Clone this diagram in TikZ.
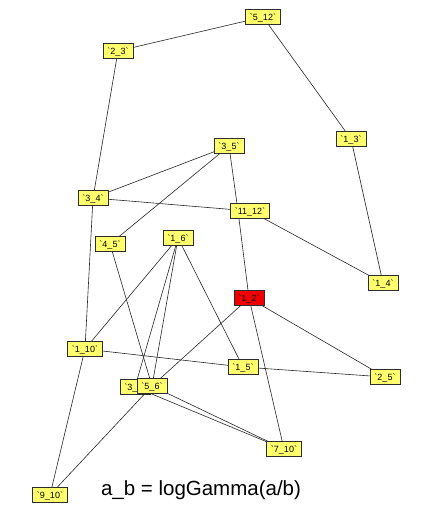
\documentclass[tikz,border=0pt]{standalone}
\usepackage{fontspec}
\setmainfont{Liberation Sans}
\usepackage{tikz}
\usetikzlibrary{backgrounds}
\definecolor{nodeyellow}{RGB}{255,255,110}
\definecolor{nodered}{RGB}{240,0,0}
\definecolor{nodeedge}{RGB}{45,45,45}
\tikzset{
  gnode/.style={draw=nodeedge, line width=0.9pt, fill=nodeyellow, font=\fontsize{9}{10}\selectfont,
    minimum height=15pt, inner xsep=4.5pt, inner ysep=0pt, text height=7pt, text depth=1pt},
  rnode/.style={gnode, fill=nodered},
  gedge/.style={draw=black!85, line width=0.6pt}
}
\newcommand{\lab}[2]{\textasciigrave#1\_#2\textasciigrave}

\begin{document}
\begin{tikzpicture}[x=1pt,y=-1pt]
        \useasboundingbox (0,0) rectangle (433,512);
        % Nodes
        \node[gnode] (n512) at (263,17) {\lab{5}{12}};
        \node[gnode] (n23) at (118,51) {\lab{2}{3}};
        \node[gnode] (n13) at (351,139) {\lab{1}{3}};
        \node[gnode] (n35) at (229,146) {\lab{3}{5}};
        \node[gnode] (n34) at (93,198) {\lab{3}{4}};
        \node[gnode] (n1112) at (250,211) {\lab{11}{12}};
        \node[gnode] (n45) at (110,244) {\lab{4}{5}};
        \node[gnode] (n16) at (178,238) {\lab{1}{6}};
        \node[gnode] (n14) at (383,283) {\lab{1}{4}};
        \node[rnode] (n12) at (249,298) {\lab{1}{2}};
        \node[gnode] (n110) at (85,349) {\lab{1}{10}};
        \node[gnode] (n15) at (243,367) {\lab{1}{5}};
        \node[gnode] (n25) at (385,377) {\lab{2}{5}};
        \node[gnode] (n36) at (135,387) {\lab{3}{6}};
        \node[gnode] (n56) at (152,386) {\lab{5}{6}};
        \node[gnode] (n710) at (284,449) {\lab{7}{10}};
        \node[gnode] (n910) at (50,495) {\lab{9}{10}};
        \node[anchor=base] (title) at (201,495) {\fontsize{20.5}{24}\selectfont a\_b = logGamma(a/b)};

        % Drawing
        \begin{pgfonlayer}{background}
        \draw[gedge] (n512.center) -- (n23.center);
        \draw[gedge] (n512.center) -- (n13.center);
        \draw[gedge] (n23.center) -- (n34.center);
        \draw[gedge] (n13.center) -- (n14.center);
        \draw[gedge] (n35.center) -- (n34.center);
        \draw[gedge] (n35.center) -- (n45.center);
        \draw[gedge] (n35.center) -- ([xshift=-12pt]n1112.center);
        \draw[gedge] (n34.center) -- (n1112.center);
        \draw[gedge] (n34.center) -- (n110.center);
        \draw[gedge] (n1112.center) -- (n14.center);
        \draw[gedge] ([xshift=-12pt]n1112.center) -- (n12.center);
        \draw[gedge] (n45.center) -- (n56.center);
        \draw[gedge] (n16.center) -- (n110.center);
        \draw[gedge] (n16.center) -- (n36.center);
        \draw[gedge] (n16.center) -- (n56.center);
        \draw[gedge] (n16.center) -- (n15.center);
        \draw[gedge] (n12.center) -- (n56.center);
        \draw[gedge] (n12.center) -- (n25.center);
        \draw[gedge] (n12.center) -- (n710.center);
        \draw[gedge] (n110.center) -- (n15.center);
        \draw[gedge] (n15.center) -- (n25.center);
        \draw[gedge] (n110.center) -- (n910.center);
        \draw[gedge] (n56.center) -- (n910.center);
        \draw[gedge] (n56.center) -- (n710.center);
        \draw[gedge] (n36.center) -- (n710.center);
        \end{pgfonlayer}
\end{tikzpicture}
\end{document}
